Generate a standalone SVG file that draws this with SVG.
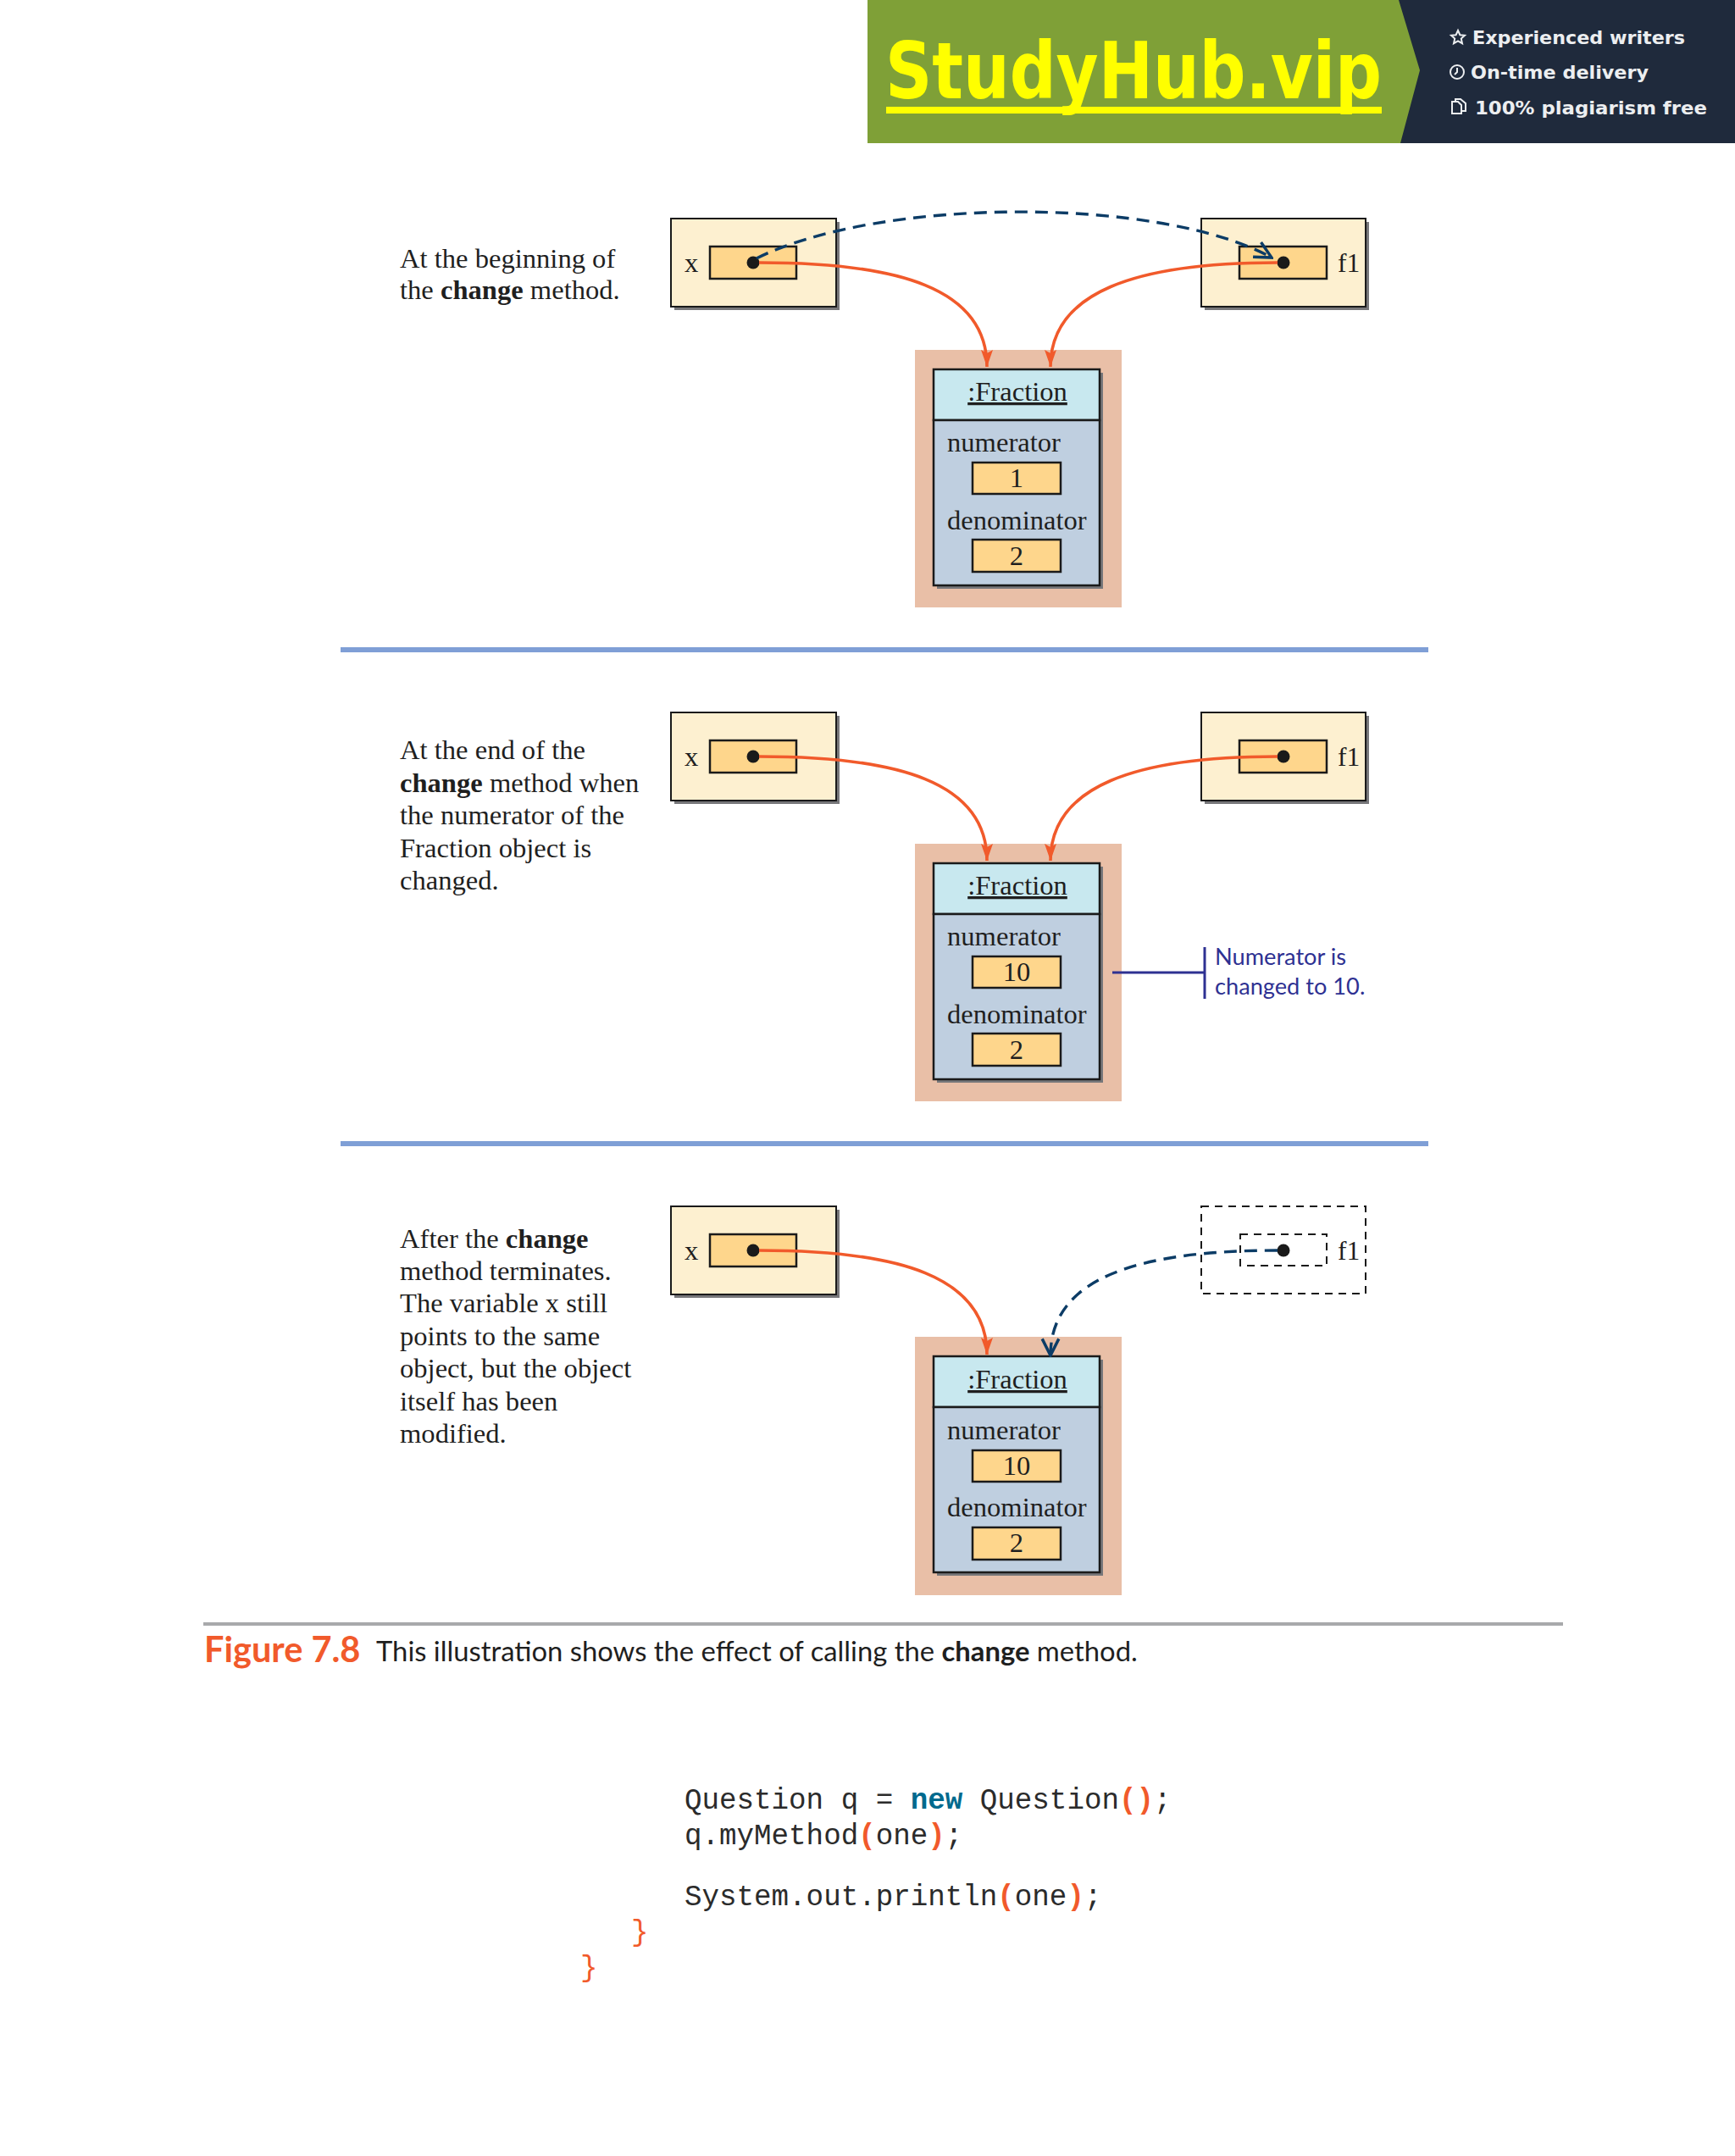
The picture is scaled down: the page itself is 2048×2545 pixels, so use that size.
<svg xmlns="http://www.w3.org/2000/svg" width="2048" height="2545" viewBox="0 0 2048 2545">
<style>
text{font-family:"Liberation Serif",serif;font-size:32.6px;fill:#1f1f1f}
.b{font-weight:700}
.outer{fill:#fdf0d0;stroke:#1a1a1a;stroke-width:2}
.shadow{fill:#77777a}
.slot{fill:#fed68c;stroke:#1a1a1a;stroke-width:2.5}
.halo{fill:#e9bfa7}
.head{fill:#c8e8ef;stroke:#1a1a1a;stroke-width:2.5}
.body{fill:#bfcfe0;stroke:#1a1a1a;stroke-width:2.5}
.m{text-anchor:middle}
.dot{fill:#1a1a1a}
.ref{fill:none;stroke:#f15a2b;stroke-width:3.6}
.old{fill:none;stroke:#0c3c66;stroke-width:3.4;stroke-dasharray:15 9}
.gone{fill:none;stroke:#1a1a1a;stroke-width:2;stroke-dasharray:9 7}
.sep{fill:#7f9fd6}
.sans{font-family:Lato,"Open Sans",sans-serif}
.code{font-family:"Liberation Mono",monospace;font-size:34.2px;fill:#2b2b2b}
.or{fill:#f15a2b;font-weight:700}
.br{fill:#f15a2b}
.kw{fill:#006a8e;font-weight:700}
.ban{font-family:"DejaVu Sans",sans-serif;font-weight:700;font-size:22px;fill:#eceef0}
.ic{fill:none;stroke:#eceef0;stroke-width:2}
</style>
<defs>
<marker id="tri" markerUnits="userSpaceOnUse" markerWidth="21" markerHeight="15" refX="20" refY="7" orient="auto" viewBox="0 0 21 14"><path d="M0 0L20 7L0 14L4 7Z" fill="#f15a2b"/></marker>
<marker id="open" markerUnits="userSpaceOnUse" markerWidth="24" markerHeight="24" refX="20" refY="10" orient="auto" viewBox="0 0 22 20"><path d="M2 1L20 10L2 19" fill="none" stroke="#0c3c66" stroke-width="3.2"/></marker>
</defs>
<rect width="2048" height="2545" fill="#fff"/>

<g id="banner">
<rect x="1024" y="0" width="1024" height="169" fill="#7fa037"/>
<path d="M1651 0L1676 83L1653 169H2048V0Z" fill="#1f2a3c"/>
<text x="1045" y="116" textLength="586" lengthAdjust="spacingAndGlyphs" style="font-family:'DejaVu Sans',sans-serif;font-weight:700;font-size:92px;fill:#ffff00">StudyHub.vip</text>
<rect x="1046" y="126" width="585" height="8" fill="#ffff00"/>
<path class="ic" d="M1721 36l2.4 5.2 5.6.6-4.2 3.8 1.2 5.6-5-2.9-5 2.9 1.2-5.6-4.2-3.8 5.6-.6Z"/>
<text class="ban" x="1738" y="52" textLength="251" lengthAdjust="spacingAndGlyphs">Experienced writers</text>
<circle class="ic" cx="1720" cy="85" r="8"/><path class="ic" d="M1720 80v5l-3 3"/>
<text class="ban" x="1736" y="93" textLength="210" lengthAdjust="spacingAndGlyphs">On-time delivery</text>
<path class="ic" d="M1714 120h7l4 4v10h-11ZM1718 120v-3h6l6 5v9h-5"/>
<text class="ban" x="1741" y="135" textLength="274" lengthAdjust="spacingAndGlyphs">100% plagiarism free</text>
</g>

<g id="caption-1">
<text x="472" y="316">At the beginning of</text>
<text x="472" y="353">the <tspan class="b">change</tspan> method.</text>
</g>
<g id="var-x-1">
<rect class="shadow" x="796" y="262" width="195" height="104"/>
<rect class="outer" x="792" y="258" width="195" height="104"/>
<rect class="slot" x="838" y="291" width="102" height="38"/>
<circle class="dot" cx="889" cy="310" r="7.5"/>
<text x="808" y="321">x</text>
</g>
<g id="var-f1-1">
<rect class="shadow" x="1422" y="262" width="194" height="104"/>
<rect class="outer" x="1418" y="258" width="194" height="104"/>
<rect class="slot" x="1463" y="291" width="103" height="38"/>
<circle class="dot" cx="1515" cy="310" r="7.5"/>
<text x="1579" y="321" style="font-size:31.500px">f1</text>
</g>
<g id="fraction-1">
<rect class="halo" x="1080" y="413" width="244" height="304"/>
<rect class="shadow" x="1106" y="440" width="196" height="255"/>
<rect class="head" x="1102" y="436" width="196" height="60"/>
<rect class="body" x="1102" y="496" width="196" height="195"/>
<text class="m" x="1201" y="473" text-decoration="underline">:Fraction</text>
<text x="1118" y="533">numerator</text>
<rect class="slot" x="1148" y="546" width="104" height="37"/>
<text class="m" x="1200" y="575">1</text>
<text x="1118" y="625">denominator</text>
<rect class="slot" x="1148" y="637" width="104" height="38"/>
<text class="m" x="1200" y="667">2</text>
</g>
<rect id="separator-1" class="sep" x="402" y="764" width="1284" height="6"/>

<g id="caption-2">
<text x="472" y="896">At the end of the</text>
<text x="472" y="934.500"><tspan class="b">change</tspan> method when</text>
<text x="472" y="973">the numerator of the</text>
<text x="472" y="1011.500">Fraction object is</text>
<text x="472" y="1050">changed.</text>
</g>
<g id="var-x-2">
<rect class="shadow" x="796" y="845" width="195" height="104"/>
<rect class="outer" x="792" y="841" width="195" height="104"/>
<rect class="slot" x="838" y="874" width="102" height="38"/>
<circle class="dot" cx="889" cy="893" r="7.5"/>
<text x="808" y="904">x</text>
</g>
<g id="var-f1-2">
<rect class="shadow" x="1422" y="845" width="194" height="104"/>
<rect class="outer" x="1418" y="841" width="194" height="104"/>
<rect class="slot" x="1463" y="874" width="103" height="38"/>
<circle class="dot" cx="1515" cy="893" r="7.5"/>
<text x="1579" y="904" style="font-size:31.500px">f1</text>
</g>
<g id="fraction-2">
<rect class="halo" x="1080" y="996" width="244" height="304"/>
<rect class="shadow" x="1106" y="1023" width="196" height="255"/>
<rect class="head" x="1102" y="1019" width="196" height="60"/>
<rect class="body" x="1102" y="1079" width="196" height="195"/>
<text class="m" x="1201" y="1056" text-decoration="underline">:Fraction</text>
<text x="1118" y="1116">numerator</text>
<rect class="slot" x="1148" y="1129" width="104" height="37"/>
<text class="m" x="1200" y="1158">10</text>
<text x="1118" y="1208">denominator</text>
<rect class="slot" x="1148" y="1220" width="104" height="38"/>
<text class="m" x="1200" y="1250">2</text>
</g>
<g id="note-numerator">
<path d="M1313 1148H1422M1422 1118V1179" fill="none" stroke="#2e3192" stroke-width="3"/>
<text class="sans" x="1434" y="1139" style="font-size:27.200px;fill:#2e3192">Numerator is</text>
<text class="sans" x="1434" y="1174" style="font-size:27.200px;fill:#2e3192">changed to 10.</text>
</g>
<rect id="separator-2" class="sep" x="402" y="1347" width="1284" height="6"/>

<g id="caption-3">
<text x="472" y="1473">After the <tspan class="b">change</tspan></text>
<text x="472" y="1510.500">method terminates.</text>
<text x="472" y="1549">The variable x still</text>
<text x="472" y="1587.500">points to the same</text>
<text x="472" y="1626">object, but the object</text>
<text x="472" y="1664.500">itself has been</text>
<text x="472" y="1703">modified.</text>
</g>
<g id="var-x-3">
<rect class="shadow" x="796" y="1428" width="195" height="104"/>
<rect class="outer" x="792" y="1424" width="195" height="104"/>
<rect class="slot" x="838" y="1457" width="102" height="38"/>
<circle class="dot" cx="889" cy="1476" r="7.5"/>
<text x="808" y="1487">x</text>
</g>
<g id="var-f1-3">
<rect class="gone" x="1418" y="1424" width="194" height="103"/>
<rect class="gone" x="1464" y="1457" width="102" height="37"/>
<circle class="dot" cx="1515" cy="1476" r="7.5"/>
<text x="1579" y="1487" style="font-size:31.500px">f1</text>
</g>
<g id="fraction-3">
<rect class="halo" x="1080" y="1578" width="244" height="305"/>
<rect class="shadow" x="1106" y="1605" width="196" height="255"/>
<rect class="head" x="1102" y="1601" width="196" height="60"/>
<rect class="body" x="1102" y="1661" width="196" height="195"/>
<text class="m" x="1201" y="1639" text-decoration="underline">:Fraction</text>
<text x="1118" y="1699">numerator</text>
<rect class="slot" x="1148" y="1712" width="104" height="37"/>
<text class="m" x="1200" y="1741">10</text>
<text x="1118" y="1790">denominator</text>
<rect class="slot" x="1148" y="1803" width="104" height="38"/>
<text class="m" x="1200" y="1832">2</text>
</g>

<g id="connectors">
<path class="old" marker-end="url(#open)" d="M893 305C1040 232 1370 232 1501 304"/>
<path class="ref" marker-end="url(#tri)" d="M896 310C1060 310 1165 340 1165 433"/>
<path class="ref" marker-end="url(#tri)" d="M1508 310C1340 310 1240 345 1240 433"/>
<path class="ref" marker-end="url(#tri)" d="M896 893C1060 893 1165 923 1165 1016"/>
<path class="ref" marker-end="url(#tri)" d="M1508 893C1340 893 1240 928 1240 1016"/>
<path class="ref" marker-end="url(#tri)" d="M896 1476C1060 1476 1165 1506 1165 1599"/>
<path class="old" marker-end="url(#open)" d="M1508 1476C1340 1476 1240 1510 1240 1600"/>
</g>

<g id="figure-caption">
<rect x="240" y="1915" width="1605" height="4" fill="#a8a9ab"/>
<text class="sans or" x="241" y="1962" style="font-size:41.500px">Figure 7.8</text>
<text class="sans" x="444" y="1961" style="font-size:32.800px">This illustration shows the effect of calling the <tspan class="b">change</tspan> method.</text>
</g>

<g id="code">
<text class="code" x="808" y="2135">Question q = <tspan class="kw">new</tspan> Question<tspan class="or">()</tspan>;</text>
<text class="code" x="808" y="2177">q.myMethod<tspan class="or">(</tspan>one<tspan class="or">)</tspan>;</text>
<text class="code" x="808" y="2249">System.out.println<tspan class="or">(</tspan>one<tspan class="or">)</tspan>;</text>
<text class="code br" x="745" y="2291">}</text>
<text class="code br" x="685" y="2333">}</text>
</g>
</svg>
